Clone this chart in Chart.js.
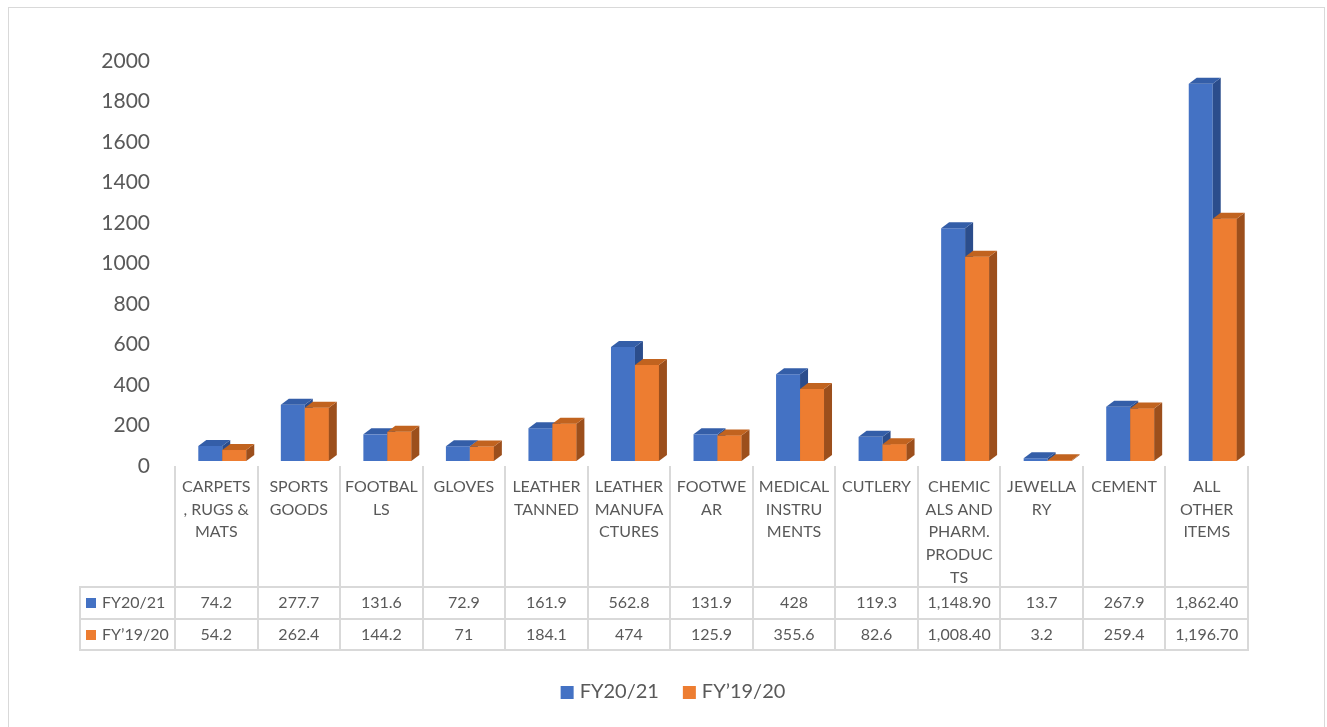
<!DOCTYPE html>
<html>
<head>
<meta charset="utf-8">
<title>Exports by category</title>
<script src="https://cdn.jsdelivr.net/npm/chart.js@4"></script>
<style>
  html, body { margin: 0; padding: 0; background: #fff; }
  canvas { display: block; }
</style>
</head>
<body>
<canvas id="chart" width="1327" height="727"></canvas>
<script>
// Category names, wrapped the way they appear in the data table
const categoryLines = [
    ['CARPETS', ', RUGS &', 'MATS'],
    ['SPORTS', 'GOODS'],
    ['FOOTBAL', 'LS'],
    ['GLOVES'],
    ['LEATHER', 'TANNED'],
    ['LEATHER', 'MANUFA', 'CTURES'],
    ['FOOTWE', 'AR'],
    ['MEDICAL', 'INSTRU', 'MENTS'],
    ['CUTLERY'],
    ['CHEMIC', 'ALS AND', 'PHARM.', 'PRODUC', 'TS'],
    ['JEWELLA', 'RY'],
    ['CEMENT'],
    ['ALL', 'OTHER', 'ITEMS']
];
const categories = categoryLines.map(l => l.join(' '));

const fy2021 = [74.2, 277.7, 131.6, 72.9, 161.9, 562.8, 131.9, 428, 119.3, 1148.9, 13.7, 267.9, 1862.4];
const fy1920 = [54.2, 262.4, 144.2, 71, 184.1, 474, 125.9, 355.6, 82.6, 1008.4, 3.2, 259.4, 1196.7];

const seriesNames = ['FY20/21', 'FY\u201919/20'];
const yMin = 0, yMax = 2000, yStep = 200;

const FONT = 'Lato, "Open Sans", sans-serif';
const TEXT = '#595959';
const GRID = '#d9d9d9';
const front = ['#4472c4', '#ed7d31'];
const top3d = ['#345ea8', '#c1631f'];
const side3d = ['#2b4d8c', '#9c4f1c'];
const DX = 8, DY = 6, SHIFT = 6;

function fmt(v) {
    return v >= 1000 ? v.toLocaleString('en-US', { minimumFractionDigits: 2 }) : String(v);
}

// bars get a small shift right and a fake 3D top/side
const bars3d = {
    id: 'bars3d',
    beforeDatasetsDraw(chart) {
        chart.ctx.save();
        chart.ctx.translate(SHIFT, 0);
    },
    afterDatasetsDraw(chart) {
        const ctx = chart.ctx;
        const metas = [chart.getDatasetMeta(0), chart.getDatasetMeta(1)];
        for (let i = 0; i < categories.length; i++) {
            metas.forEach((meta, d) => {
                const el = meta.data[i];
                const l = el.x - el.width / 2, r = el.x + el.width / 2;
                const t = el.y, b = el.base;
                if (d === 1) {
                    ctx.fillStyle = front[d];
                    ctx.fillRect(l, t, r - l, b - t);
                }
                ctx.fillStyle = side3d[d];
                ctx.beginPath();
                ctx.moveTo(r, b); ctx.lineTo(r + DX, b - DY);
                ctx.lineTo(r + DX, t - DY); ctx.lineTo(r, t);
                ctx.closePath(); ctx.fill();
                ctx.fillStyle = top3d[d];
                ctx.beginPath();
                ctx.moveTo(l, t); ctx.lineTo(r, t);
                ctx.lineTo(r + DX, t - DY); ctx.lineTo(l + DX, t - DY);
                ctx.closePath(); ctx.fill();
            });
        }
        ctx.restore();
    },
    afterDraw(chart) {
        const ctx = chart.ctx;
        const x = chart.scales.x;
        const n = categories.length;
        const step = (x.right - x.left) / n;
        const tableLeft = 80, rowTop = 587, row1 = 619, rowBottom = 650;

        ctx.save();
        // outer border
        ctx.strokeStyle = GRID;
        ctx.lineWidth = 1;
        ctx.strokeRect(8.5, 7.5, 1316, 760);

        // table grid
        ctx.lineWidth = 2;
        ctx.beginPath();
        for (let i = 0; i <= n; i++) {
            const bx = Math.round(x.left + i * step);
            ctx.moveTo(bx, 466); ctx.lineTo(bx, rowBottom);
        }
        ctx.moveTo(tableLeft, rowTop); ctx.lineTo(tableLeft, rowBottom);
        [rowTop, row1, rowBottom].forEach(y => {
            ctx.moveTo(tableLeft - 1, y); ctx.lineTo(x.right + 1, y);
        });
        ctx.stroke();

        // category labels and values
        ctx.fillStyle = TEXT;
        ctx.font = '16px ' + FONT;
        ctx.textAlign = 'center';
        ctx.textBaseline = 'middle';
        categoryLines.forEach((lines, i) => {
            const cx = x.getPixelForValue(i);
            lines.forEach((s, k) => ctx.fillText(s, cx, 487 + k * 22.6));
            ctx.fillText(fmt(fy2021[i]), cx, 603);
            ctx.fillText(fmt(fy1920[i]), cx, 635);
        });

        // row headers
        ctx.textAlign = 'left';
        [603, 635].forEach((y, d) => {
            ctx.fillStyle = front[d];
            ctx.fillRect(86, y - 5, 10, 10);
            ctx.fillStyle = TEXT;
            ctx.fillText(seriesNames[d], 102, y);
        });

        // legend
        ctx.font = '20px ' + FONT;
        const box = 13, gapBox = 6, gapItem = 24;
        const widths = seriesNames.map(s => box + gapBox + ctx.measureText(s).width);
        let lx = 673 - (widths[0] + widths[1] + gapItem) / 2;
        seriesNames.forEach((s, d) => {
            ctx.fillStyle = front[d];
            ctx.fillRect(lx, 686, box, box);
            ctx.fillStyle = TEXT;
            ctx.fillText(s, lx + box + gapBox, 692);
            lx += widths[d] + gapItem;
        });
        ctx.restore();
    }
};

new Chart(document.getElementById('chart'), {
    type: 'bar',
    data: {
        labels: categories,
        datasets: [
            { label: seriesNames[0], data: fy2021, backgroundColor: front[0], borderWidth: 0 },
            { label: seriesNames[1], data: fy1920, backgroundColor: front[1], borderWidth: 0 }
        ]
    },
    options: {
        responsive: false,
        animation: false,
        layout: { padding: { left: 0, right: 79, top: 56, bottom: 266 } },
        datasets: { bar: { categoryPercentage: 0.581, barPercentage: 1 } },
        plugins: {
            legend: { display: false },
            tooltip: { enabled: false }
        },
        scales: {
            x: { display: false },
            y: {
                min: yMin,
                max: yMax,
                afterFit(scale) { scale.width = 175; },
                grid: { display: false },
                border: { display: false },
                ticks: {
                    stepSize: yStep,
                    padding: 17,
                    labelOffset: 5,
                    color: TEXT,
                    font: { family: FONT, size: 21 },
                    callback: v => String(v)
                }
            }
        }
    },
    plugins: [bars3d]
});
</script>
</body>
</html>
